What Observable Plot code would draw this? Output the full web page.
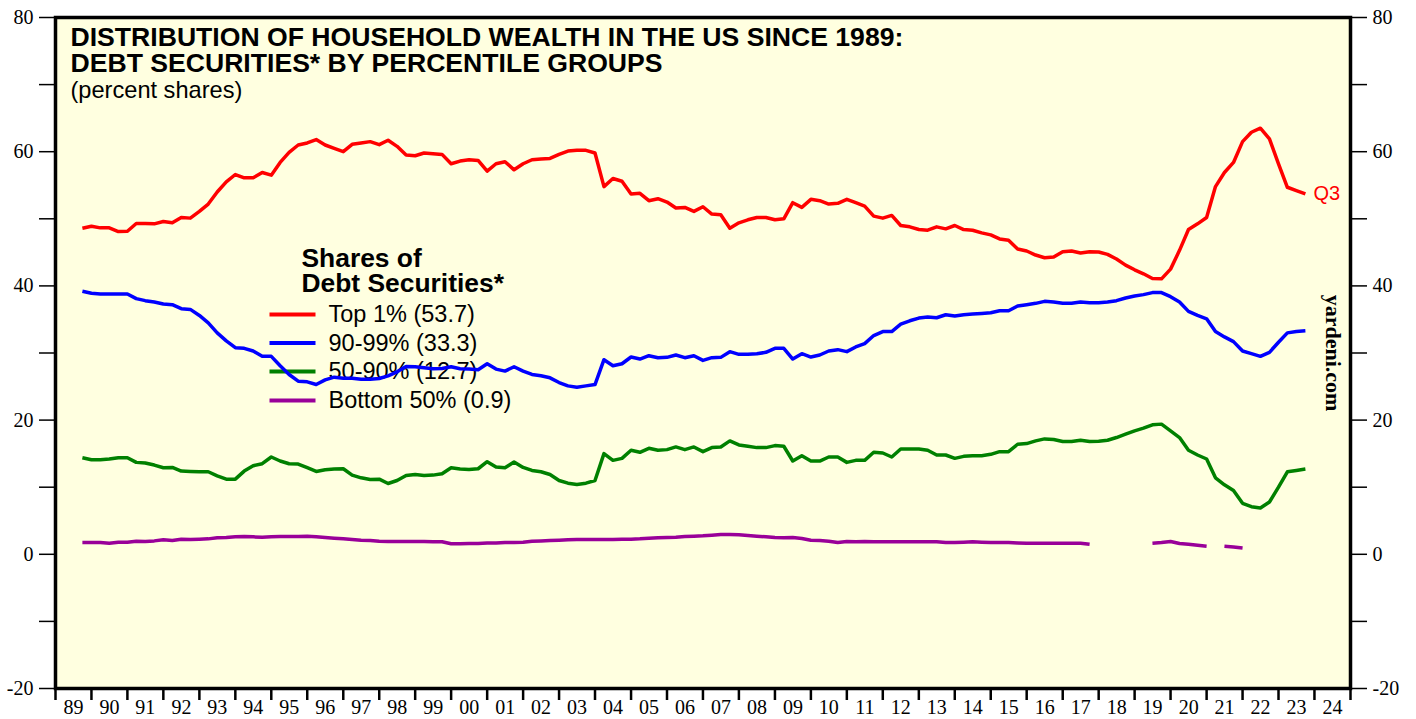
<!DOCTYPE html>
<html>
<head>
<meta charset="utf-8">
<script src="https://cdn.jsdelivr.net/npm/d3@7"></script>
<script src="https://cdn.jsdelivr.net/npm/@observablehq/plot@0.6"></script>
<style>
  html, body { margin: 0; padding: 0; background: #ffffff; overflow: hidden; }
  #chart svg { display: block; max-width: none; }
</style>
</head>
<body>
<div id="chart"></div>
<script>
// ---- Data (quarterly, 1989 Q3 .. 2023 Q3), percent shares of debt securities ----
const startYear = 1989;
const startQuarter = 3;

const top1 = [
  48.6, 48.9, 48.65, 48.65, 48.1, 48.15, 49.3, 49.3, 49.25, 49.6,
  49.4, 50.2, 50.1, 51.1, 52.2, 54.0, 55.5, 56.6, 56.1, 56.1,
  56.9, 56.5, 58.4, 59.9, 61.0, 61.3, 61.8, 61.0, 60.5, 60.0,
  61.1, 61.3, 61.5, 61.05, 61.7, 60.8, 59.5, 59.4, 59.8, 59.7,
  59.6, 58.2, 58.6, 58.8, 58.7, 57.1, 58.2, 58.5, 57.3, 58.2,
  58.8, 58.9, 59.0, 59.6, 60.1, 60.2, 60.2, 59.8, 54.8, 56.0,
  55.6, 53.7, 53.8, 52.7,
  53.0, 52.5, 51.6, 51.7, 51.1, 51.8, 50.7, 50.6, 48.6, 49.4,
  49.85, 50.2, 50.2, 49.85, 50.0, 52.4, 51.7, 52.9, 52.7, 52.2,
  52.3, 52.9, 52.4, 51.9, 50.4, 50.1, 50.5, 49.0, 48.8, 48.4,
  48.3, 48.8, 48.5, 49.0, 48.4, 48.3, 47.9, 47.6, 47.0, 46.8,
  45.5, 45.2, 44.6, 44.2, 44.3, 45.1, 45.2, 44.9, 45.1, 45.05,
  44.7, 44.0, 43.1, 42.4, 41.8, 41.1, 41.05, 42.5, 45.3, 48.4,
  49.25, 50.2, 54.8, 56.9, 58.4, 61.5, 62.9, 63.5, 61.9, 58.2,
  54.7, 54.2, 53.7
];

const p90_99 = [
  39.2, 38.9, 38.8, 38.8, 38.8, 38.8, 38.1, 37.8, 37.6, 37.3,
  37.2, 36.6, 36.5, 35.6, 34.5, 33.0, 31.8, 30.8, 30.7, 30.3,
  29.5, 29.5, 28.1, 26.8, 25.8, 25.7, 25.3, 26.0, 26.4, 26.25,
  26.25, 26.1, 26.1, 26.2, 26.6, 27.2, 28.0, 27.95, 27.8, 27.65,
  27.7, 27.95, 27.65, 27.6, 27.5, 28.4, 27.6, 27.3, 27.95, 27.3,
  26.8, 26.6, 26.3, 25.6, 25.1, 24.9, 25.1, 25.3, 29.0, 28.1,
  28.4, 29.4, 29.1, 29.6,
  29.3, 29.35, 29.7, 29.3, 29.6, 28.9, 29.3, 29.35, 30.2, 29.8,
  29.8, 29.9, 30.1, 30.7, 30.7, 29.1, 29.9, 29.4, 29.7, 30.3,
  30.5, 30.2, 30.9, 31.4, 32.6, 33.2, 33.2, 34.3, 34.8, 35.2,
  35.35, 35.25, 35.7, 35.5, 35.7, 35.8, 35.9, 36.0, 36.3, 36.3,
  37.0, 37.2, 37.4, 37.7, 37.6, 37.4, 37.4, 37.6, 37.5, 37.5,
  37.6, 37.8, 38.2, 38.5, 38.7, 39.0, 39.0, 38.4, 37.6, 36.2,
  35.6, 35.1, 33.2, 32.4, 31.7, 30.3, 29.9, 29.5, 30.1, 31.6,
  33.0, 33.2, 33.3
];

const p50_90 = [
  14.4, 14.1, 14.1, 14.2, 14.4, 14.4, 13.7, 13.6, 13.3, 12.9,
  12.95, 12.4, 12.35, 12.3, 12.3, 11.7, 11.2, 11.2, 12.4, 13.2,
  13.5, 14.5, 13.9, 13.5, 13.45, 12.9, 12.35, 12.6, 12.7, 12.75,
  11.8, 11.4, 11.15, 11.2, 10.55, 11.0, 11.75, 11.9, 11.75, 11.8,
  12.0, 12.9, 12.7, 12.65, 12.75, 13.8, 13.0, 12.9, 13.75, 12.95,
  12.5, 12.3, 11.9, 11.0, 10.6, 10.4, 10.6, 11.0, 15.0, 14.0,
  14.3, 15.5, 15.2, 15.8,
  15.5, 15.6, 16.0, 15.6, 16.0, 15.3, 15.9, 16.0, 16.9, 16.3,
  16.1, 15.9, 15.9, 16.2, 16.1, 13.9, 14.7, 13.9, 13.9, 14.5,
  14.5, 13.7, 14.0, 14.0, 15.2, 15.1, 14.5, 15.7, 15.7, 15.7,
  15.5, 14.8, 14.8, 14.3, 14.6, 14.7, 14.7, 14.9, 15.3, 15.3,
  16.4, 16.5, 16.9, 17.2, 17.1, 16.8, 16.8, 17.0, 16.8, 16.85,
  17.0, 17.4, 17.9, 18.4, 18.8, 19.3, 19.4, 18.4, 17.4, 15.5,
  14.8, 14.2, 11.4, 10.35, 9.5, 7.6, 7.1, 6.9, 7.8, 10.0,
  12.3, 12.5, 12.7
];

const bottom50 = [
  1.76, 1.76, 1.76, 1.66, 1.81, 1.81, 1.96, 1.91, 2.0, 2.16,
  2.06, 2.25, 2.2, 2.25, 2.3, 2.45, 2.5, 2.6, 2.65, 2.6,
  2.55, 2.6, 2.65, 2.65, 2.65, 2.7, 2.6, 2.5, 2.4, 2.3,
  2.2, 2.1, 2.06, 1.96, 1.91, 1.91, 1.91, 1.91, 1.91, 1.86,
  1.86, 1.56, 1.56, 1.6, 1.6, 1.7, 1.7, 1.76, 1.76, 1.81,
  1.96, 2.0, 2.06, 2.1, 2.16, 2.2, 2.2, 2.2, 2.2, 2.2,
  2.25, 2.25, 2.3, 2.4,
  2.45, 2.5, 2.55, 2.65, 2.7, 2.75, 2.85, 2.95, 2.95, 2.9,
  2.8, 2.7, 2.6, 2.5, 2.45, 2.5, 2.35, 2.1, 2.06, 1.96,
  1.76, 1.91, 1.86, 1.91, 1.86, 1.86, 1.86, 1.86, 1.86, 1.86,
  1.86, 1.86, 1.76, 1.76, 1.81, 1.86, 1.81, 1.76, 1.76, 1.76,
  1.7, 1.66, 1.66, 1.66, 1.66, 1.66, 1.66, 1.66, 1.5, null,
  null, null, null, null, null, 1.65, 1.75, 1.9, 1.6, 1.5,
  1.35, 1.2, null, 1.2, 1.1, 0.95, null, null, null, null,
  null, null, null
];

const seriesNames = ["Top 1%", "90-99%", "50-90%", "Bottom 50%"];
const latestValues = ["53.7", "33.3", "12.7", "0.9"];
const seriesColors = ["#ff0000", "#0000ff", "#008000", "#990099"];
const latestQuarterLabel = "Q3";

const titleLines = [
  "DISTRIBUTION OF HOUSEHOLD WEALTH IN THE US SINCE 1989:",
  "DEBT SECURITIES* BY PERCENTILE GROUPS"
];
const subtitle = "(percent shares)";
const legendTitle = ["Shares of", "Debt Securities*"];
const credit = "yardeni.com";

const firstYear = 1989, lastYear = 2024;
const yTicks = d3.range(-20, 81, 10);

// ---- derived ----
const dates = top1.map((_, i) => {
  const q = startQuarter - 1 + i;
  return new Date(Date.UTC(startYear + Math.floor(q / 4), 3 * (q % 4) + 3, 1)); // quarter end
});
const allSeries = [top1, p90_99, p50_90, bottom50].map(a => a.map(v => v == null ? NaN : v));
const yearStarts = d3.range(firstYear, lastYear + 2).map(y => new Date(Date.UTC(y, 0, 1)));
const yearMids = d3.range(firstYear, lastYear + 1).map(y => new Date(Date.UTC(y, 6, 2, 12)));

// ---- layout ----
const W = 1416, H = 719;
const ML = 55, MR = 66, MT = 17, MB = 31;
const BG = "#ffffe0";
const SANS = "Liberation Sans, Arial, Helvetica, sans-serif";
const SERIF = "Liberation Serif, Times New Roman, serif";

function txt(text, px, py, opts = {}) {
  return Plot.text([text], {
    frameAnchor: "top-left", dx: px - ML, dy: py - MT,
    textAnchor: "start", lineAnchor: "bottom", fill: "black",
    fontFamily: SANS, ...opts
  });
}

const hline = { draw(ctx) { ctx.moveTo(-23, 0); ctx.lineTo(23, 0); } };

const legendRowsY = [314, 342.5, 371, 400];
const legendMarks = [];
seriesNames.forEach((name, k) => {
  legendMarks.push(Plot.dot([name], {
    frameAnchor: "top-left", dx: 292 - ML, dy: legendRowsY[k] - MT,
    symbol: hline, r: 5, fill: "none", stroke: seriesColors[k], strokeWidth: 4
  }));
  legendMarks.push(Plot.text([`${name} (${latestValues[k]})`], {
    frameAnchor: "top-left", dx: 328 - ML, dy: legendRowsY[k] - MT,
    textAnchor: "start", lineAnchor: "middle", fill: "black",
    fontFamily: SANS, fontSize: 23.5
  }));
});

const chart = Plot.plot({
  width: W, height: H,
  marginLeft: ML, marginRight: MR, marginTop: MT, marginBottom: MB,
  style: { background: "#ffffff", fontFamily: SANS, color: "black" },
  x: { type: "utc", domain: [yearStarts[0], yearStarts[yearStarts.length - 1]], label: null },
  y: { domain: [-20, 80], label: null },
  marks: [
    Plot.frame({ fill: BG }),
    // axes
    Plot.axisX({ ticks: yearStarts, tickSize: 12, tickFormat: () => "", strokeWidth: 2.5, label: null }),
    Plot.axisX({ ticks: yearMids, tickSize: 0, tickPadding: 11, tickFormat: d3.utcFormat("%y"),
      fontSize: 20, fontFamily: SERIF, fill: "black", label: null }),
    Plot.axisY({ anchor: "left", ticks: yTicks, tickSize: 16, tickPadding: 6, strokeWidth: 1.5,
      tickFormat: d => d % 20 === 0 ? String(d) : "", fontSize: 20, fontFamily: SERIF, fill: "black", label: null }),
    Plot.axisY({ anchor: "right", ticks: yTicks, tickSize: 16, tickPadding: 6, strokeWidth: 1.5,
      tickFormat: d => d % 20 === 0 ? String(d) : "", fontSize: 20, fontFamily: SERIF, fill: "black", label: null }),
    // titles (one multi-line text each)
    txt(titleLines.join("\n"), 70, 71.7, { fontSize: 26.6, fontWeight: "bold", lineHeight: 26.7 / 26.6 }),
    txt(subtitle, 70, 97, { fontSize: 23.6 }),
    // legend
    txt(legendTitle.join("\n"), 301, 291.5, { fontSize: 26.4, fontWeight: "bold", lineHeight: 24.8 / 26.4 }),
    ...legendMarks,
    // series
    ...allSeries.map((vals, k) => Plot.line(dates, {
      x: d => d, y: vals, stroke: seriesColors[k], strokeWidth: 3.5,
      strokeLinejoin: "round", strokeLinecap: "butt"
    })),
    // latest quarter label
    Plot.text([latestQuarterLabel], {
      x: [dates[dates.length - 1]], y: [top1[top1.length - 1]], dx: 8,
      textAnchor: "start", lineAnchor: "middle", fill: seriesColors[0], fontSize: 20, fontFamily: SANS
    }),
    // credit
    Plot.text([credit], {
      frameAnchor: "right", dx: -17, rotate: 90, textAnchor: "middle", lineAnchor: "middle",
      fontFamily: SERIF, fontWeight: "bold", fontSize: 22, fill: "black"
    }),
    Plot.frame({ stroke: "black", strokeWidth: 3.5 })
  ]
});

document.getElementById("chart").appendChild(chart);
</script>
</body>
</html>
